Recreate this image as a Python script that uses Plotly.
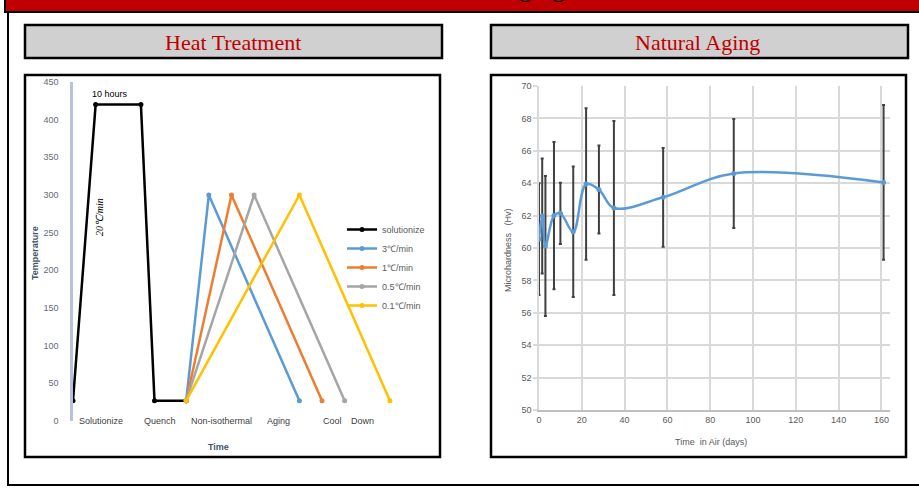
import plotly.graph_objects as go

W, H = 919, 490
def PX(x): return x / W
def PY(y): return 1 - y / H

# ---------------- Heat treatment data ----------------
solution_t = [0, 5, 15, 18, 25]
solution_T = [27, 420, 420, 27, 27]
rate_names = ["3\u2103/min", "1\u2103/min", "0.5\u2103/min", "0.1\u2103/min"]
rate_t = [[25, 30, 50], [25, 35, 55], [25, 40, 60], [25, 50, 70]]
rate_T = [[27, 300, 27], [27, 300, 27], [27, 300, 27], [27, 300, 27]]
rate_colors = ["#5b9bd5", "#ed7d31", "#a5a5a5", "#ffc000"]
stage_labels = ["Solutionize", "Quench", "Non-isothermal", "Aging", "Cool", "Down"]
stage_pos = [6.2, 19.2, 32.7, 45.3, 57.4, 64.0]

# ---------------- Natural aging data ----------------
days = [0, 1.5, 3, 7, 10, 16, 22, 28, 35, 58, 91, 161]
hv = [60.55, 61.98, 60.12, 62.0, 62.14, 61.0, 63.95, 63.61, 62.47, 63.13, 64.6, 64.05]
hv_err = [3.45, 3.55, 4.32, 4.54, 1.89, 4.03, 4.68, 2.71, 5.37, 3.05, 3.36, 4.78]

fig = go.Figure()

fig.add_trace(go.Scatter(
    x=solution_t, y=solution_T, name="solutionize", mode="lines+markers",
    line=dict(color="black", width=2.5), marker=dict(size=5, color="black"),
    xaxis="x", yaxis="y"))
for nm, t, T, c in zip(rate_names, rate_t, rate_T, rate_colors):
    fig.add_trace(go.Scatter(
        x=t, y=T, name=nm, mode="lines+markers",
        line=dict(color=c, width=2.5), marker=dict(size=5, color=c),
        xaxis="x", yaxis="y"))

fig.add_trace(go.Scatter(
    x=days, y=hv, mode="lines+markers", showlegend=False,
    line=dict(color="#5b9bd5", width=2.5, shape="spline", smoothing=1),
    marker=dict(size=5, color="#5b9bd5"),
    error_y=dict(type="data", array=hv_err, color="#404040", thickness=2, width=1.5),
    xaxis="x2", yaxis="y2"))

shapes = []
# top red bar and outer frame
shapes.append(dict(type="rect", xref="paper", yref="paper", x0=PX(5), x1=PX(940),
                   y0=PY(-10), y1=PY(12), fillcolor="#c00000", line=dict(color="black", width=2), layer="below"))
shapes.append(dict(type="rect", xref="paper", yref="paper", x0=PX(8), x1=PX(940),
                   y0=PY(12), y1=PY(485), fillcolor="white", line=dict(color="black", width=2), layer="below"))
# title boxes
for x0, x1 in [(25, 442), (491, 908)]:
    shapes.append(dict(type="rect", xref="paper", yref="paper", x0=PX(x0), x1=PX(x1),
                       y0=PY(25), y1=PY(58), fillcolor="#d0d0d0", line=dict(color="black", width=2.5), layer="below"))
# chart boxes
for x0, x1 in [(25, 440), (491, 906)]:
    shapes.append(dict(type="rect", xref="paper", yref="paper", x0=PX(x0), x1=PX(x1),
                       y0=PY(75), y1=PY(457), fillcolor="white", line=dict(color="black", width=2.5), layer="below"))

def pann(text, x, y, size=9, color="#595959", family="Liberation Sans", angle=0):
    return dict(text=text, x=PX(x), y=PY(y), xref="paper", yref="paper", xanchor="center",
                yanchor="middle", showarrow=False, textangle=angle,
                font=dict(family=family, size=size, color=color))

ann = []
# banner title, mostly cut off by the top edge (as in the reference); placed on a hidden full-page axis
ann.append(dict(text="Aging", x=567, y=5, xref="x3", yref="y3", xanchor="right", yanchor="bottom",
                showarrow=False, font=dict(family="Liberation Serif", size=26, color="black")))
ann.append(pann("Heat Treatment", 233, 42, 22, "#c00000", "Liberation Serif"))
ann.append(pann("Natural Aging", 697, 42, 22, "#c00000", "Liberation Serif"))
for lab, p in zip(stage_labels, stage_pos):
    ann.append(dict(text=lab, x=p, y=0, xref="x", yref="y", showarrow=False, xanchor="center",
                    yanchor="middle", font=dict(family="Liberation Sans", size=9, color="#404040")))
ann.append(dict(text="10 hours", x=8.2, y=434, xref="x", yref="y", showarrow=False,
                xanchor="center", yanchor="middle",
                font=dict(family="Liberation Sans", size=9, color="black")))
ann.append(dict(text="<i>20\u2103/min</i>", x=6.0, y=271, xref="x", yref="y", showarrow=False, textangle=-90,
                xanchor="center", yanchor="middle",
                font=dict(family="Liberation Serif", size=10, color="black")))
ann.append(pann("<b>Temperature</b>", 35, 253, 9, "#44546a", angle=-90))
ann.append(pann("<b>Time</b>", 218, 447, 9, "#44546a"))
ann.append(pann("Microhardness\u00a0\u00a0\u00a0(Hv)", 508, 250, 9, "#595959", angle=-90))
ann.append(pann("Time\u00a0\u00a0in Air (days)", 711, 442, 9, "#595959"))

fig.update_layout(
    width=W, height=H, margin=dict(l=0, r=0, t=0, b=0, autoexpand=False),
    paper_bgcolor="white", plot_bgcolor="rgba(0,0,0,0)",
    font=dict(family="Liberation Sans", size=9, color="#595959"),
    shapes=shapes, annotations=ann,
    legend=dict(x=PX(342), y=PY(215), xanchor="left", yanchor="top", bgcolor="rgba(0,0,0,0)",
                font=dict(family="Liberation Sans", size=9, color="#595959")),
    xaxis=dict(domain=[PX(73), PX(399)], range=[0, 72], visible=False, anchor="y"),
    yaxis=dict(domain=[PY(421), PY(82)], range=[0, 450], dtick=50, showgrid=False, zeroline=False,
               showline=True, linecolor="#b4c3d9", linewidth=2.5, ticks="", ticklabelstandoff=10,
               tickfont=dict(size=9, color="#5f6a7a"), anchor="x"),
    xaxis2=dict(domain=[PX(539), PX(890)], range=[0, 164], tick0=0, dtick=20, showgrid=True,
                gridcolor="#d9d9d9", gridwidth=1.5, zeroline=False, showline=True, linecolor="#bfbfbf",
                linewidth=2, ticks="", tickfont=dict(size=9, color="#595959"), anchor="y2"),
    yaxis2=dict(domain=[PY(410), PY(86)], range=[50, 70], dtick=2, showgrid=True, gridcolor="#d9d9d9",
                gridwidth=1.5, zeroline=False, showline=True, linecolor="#d9d9d9", linewidth=1.5,
                ticks="outside", ticklen=4, tickcolor="#d9d9d9", tickwidth=1.5,
                tickfont=dict(size=9, color="#595959"), anchor="x2"),
    xaxis3=dict(domain=[0, 1], range=[0, W], visible=False, fixedrange=True, anchor="y3"),
    yaxis3=dict(domain=[0, 1], range=[H, 0], visible=False, fixedrange=True, anchor="x3"),
)

fig.write_html("out.html", config={"displayModeBar": False},
               post_script="document.body.style.margin='0px';")
